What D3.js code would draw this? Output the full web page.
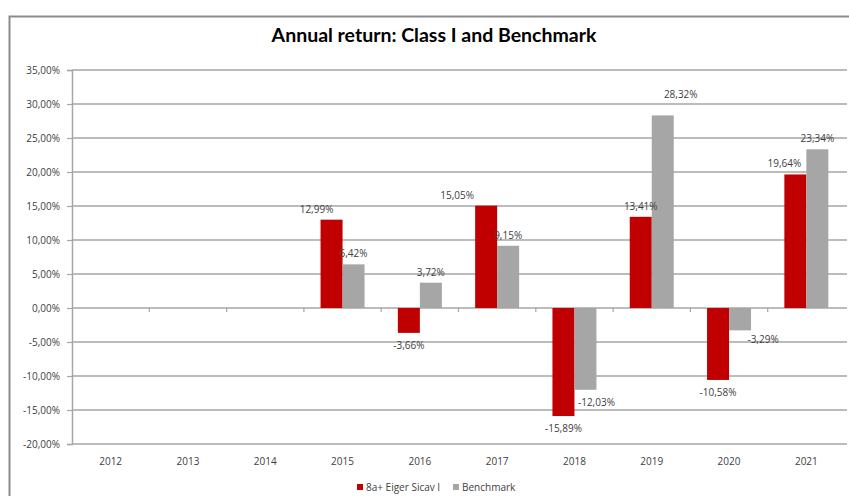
<!DOCTYPE html>
<html><head><meta charset="utf-8">
<script src="https://cdn.jsdelivr.net/npm/d3@7"></script>
<style>
body{margin:0;background:#fff;}
text{font-family:"Open Sans","Lato",sans-serif;}
</style></head>
<body><svg id="c" width="849" height="496"></svg>
<script>
const years = ["2012","2013","2014","2015","2016","2017","2018","2019","2020","2021"];
const fundValues = [null,null,null,12.99,-3.66,15.05,-15.89,13.41,-10.58,19.64];
const benchValues = [null,null,null,6.42,3.72,9.15,-12.03,28.32,-3.29,23.34];
const seriesNames = ["8a+ Eiger Sicav I","Benchmark"];
const yTicks = [35,30,25,20,15,10,5,0,-5,-10,-15,-20];

const colors = ["#c00000","#a6a6a6"];
// small label nudges (px) to mimic the original label placement
const labelNudge = {
  "0-2015":[-15,0], "0-2017":[-29,0], "1-2019":[18,-10], "0-2021":[-11,0],
  "1-2020":[23,-3], "1-2018":[11,0]
};

const svg = d3.select("#c");
const fmt = v => d3.format(".2f")(v).replace(".", ",").replace("\u2212","-") + "%";

// outer frame
svg.append("path").attr("d","M9.5,496 V16.5 H849").attr("fill","none").attr("stroke","#8c8c8c").attr("stroke-width",2);

svg.append("text").attr("x",434).attr("y",42).attr("text-anchor","middle")
  .attr("font-size",19.5).attr("font-weight","bold").attr("fill","#000")
  .style("font-family","Lato, sans-serif")
  .text("Annual return: Class I and Benchmark");

const L=72, R=845, T=70, B=444;
const x = d3.scaleBand().domain(years).range([L,R]).paddingInner(0).paddingOuter(0);
const y = d3.scaleLinear().domain([-20,35]).range([B,T]);

// gridlines
svg.append("g").selectAll("line").data(yTicks).join("line")
  .attr("x1",L).attr("x2",847).attr("y1",d=>y(d)).attr("y2",d=>y(d))
  .attr("stroke","#a6a6a6").attr("stroke-width",1.5);

// y axis
const yAxis = d3.axisLeft(y).tickValues(yTicks).tickSize(5).tickPadding(7)
  .tickFormat(fmt);
const gy = svg.append("g").attr("transform",`translate(${L},0)`).call(yAxis);
gy.select(".domain").attr("stroke","#a6a6a6").attr("stroke-width",1.5);
gy.selectAll(".tick line").attr("stroke","#a6a6a6").attr("stroke-width",1.2);
gy.selectAll("text").attr("font-size",10).attr("fill","#404040").style("font-family","Open Sans, sans-serif");

// category boundary ticks at zero line
svg.append("g").selectAll("line").data(years.slice(1)).join("line")
  .attr("x1",d=>x(d)).attr("x2",d=>x(d)).attr("y1",y(0)).attr("y2",y(0)+4)
  .attr("stroke","#a6a6a6").attr("stroke-width",1.2);

// x labels
const xAxis = d3.axisBottom(x).tickSize(0).tickPadding(0);
const gx = svg.append("g").attr("transform",`translate(0,${B+14})`).call(xAxis);
gx.select(".domain").remove();
gx.selectAll("text").attr("font-size",10).attr("fill","#404040").style("font-family","Open Sans, sans-serif");

const bw = 22;
const x1 = d3.scaleBand().domain([0,1]).range([x.bandwidth()/2-bw, x.bandwidth()/2+bw]);
const rows = [];
[fundValues,benchValues].forEach((arr,s)=>arr.forEach((v,i)=>{ if(v!==null) rows.push({s,year:years[i],v}); }));

svg.append("g").selectAll("rect").data(rows).join("rect")
  .attr("x",d=>x(d.year)+x1(d.s)).attr("width",x1.bandwidth())
  .attr("y",d=>y(Math.max(0,d.v))).attr("height",d=>Math.abs(y(d.v)-y(0)))
  .attr("fill",d=>colors[d.s]);

svg.append("g").selectAll("text").data(rows).join("text")
  .attr("x",d=>x(d.year)+x1(d.s)+x1.bandwidth()/2+((labelNudge[d.s+"-"+d.year]||[0,0])[0]))
  .attr("y",d=>(d.v>=0? y(d.v)-7 : y(d.v)+16)+((labelNudge[d.s+"-"+d.year]||[0,0])[1]))
  .attr("text-anchor","middle").attr("font-size",10).attr("fill","#404040")
  .style("font-family","Open Sans, sans-serif")
  .text(d=>fmt(d.v));

// legend
const lg = svg.append("g").attr("transform","translate(357,487)");
const items = [{n:seriesNames[0],c:colors[0],x:0},{n:seriesNames[1],c:colors[1],x:96}];
items.forEach(it=>{
  lg.append("rect").attr("x",it.x).attr("y",-3).attr("width",6).attr("height",6).attr("fill",it.c);
  lg.append("text").attr("x",it.x+9).attr("y",3.5).attr("font-size",10).attr("fill","#404040")
    .style("font-family","Open Sans, sans-serif").text(it.n);
});
</script></body></html>
